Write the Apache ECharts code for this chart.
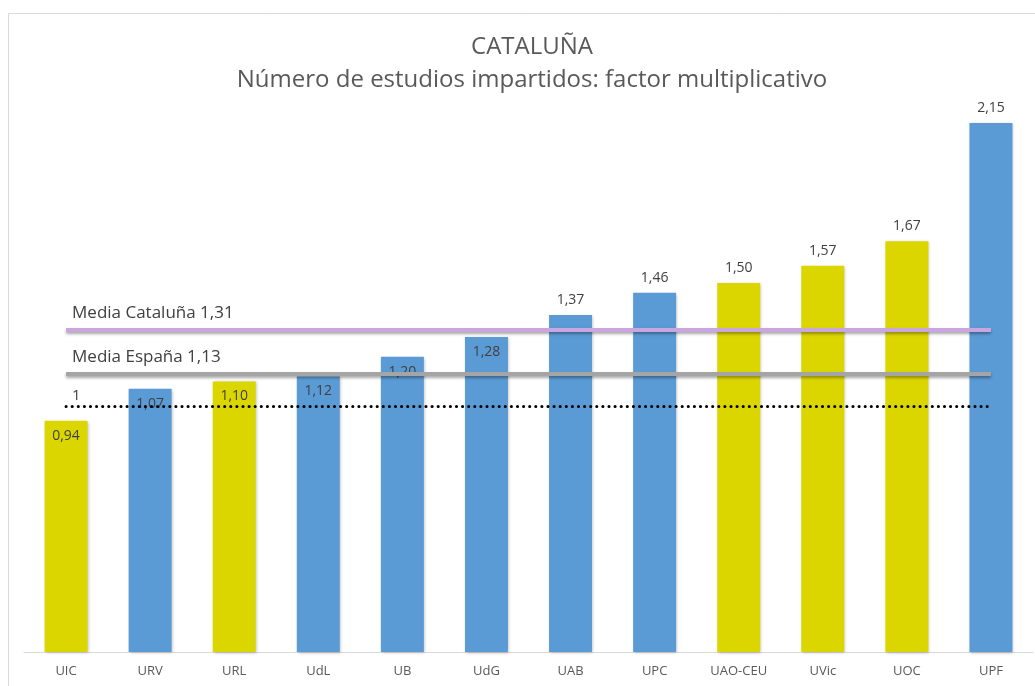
<!DOCTYPE html>
<html><head><meta charset="utf-8">
<script src="https://cdn.jsdelivr.net/npm/echarts@6/dist/echarts.min.js"></script>
<style>html,body{margin:0;padding:0;background:#fff}#c{width:1035px;height:686px}</style>
</head><body><div id="c"></div>
<script>
const categories = ['UIC','URV','URL','UdL','UB','UdG','UAB','UPC','UAO-CEU','UVic','UOC','UPF'];
const values = [0.94,1.07,1.10,1.12,1.20,1.28,1.37,1.46,1.50,1.57,1.67,2.15];
const barKinds = ['y','b','y','b','b','b','b','b','y','y','y','b'];
const labelInside = [true,true,true,true,true,true,false,false,false,false,false,false];
const refNames = ['Media Cataluña 1,31','Media España 1,13','1'];
const refValues = [1.31,1.13,1.0];
const titleText = 'CATALUÑA';
const subtitleText = 'Número de estudios impartidos: factor multiplicativo';

const BLUE = '#5b9bd5', YELLOW = '#dcd600';
const fmt = v => v.toFixed(2).replace('.', ',');
const refStyles = [
  {color:'#c9a6e0', width:4, type:'solid'},
  {color:'#a5a5a5', width:4, type:'solid'},
  {color:'#000000', width:3, type:[0.1,6], cap:'round'}
];

const barData = values.map((v,i)=>({
  value:v,
  itemStyle:{color: barKinds[i]==='y'?YELLOW:BLUE},
  label:{position: labelInside[i]?'insideTop':'top', distance: 8}
}));

const markLines = refValues.map((v,i)=>[
  {coord:[0,v], lineStyle:Object.assign({shadowColor:i<2?'rgba(0,0,0,0.35)':'rgba(0,0,0,0)', shadowBlur:3, shadowOffsetY:2}, refStyles[i]),
   label:{show:true, formatter:refNames[i], position:'insideStartTop', distance:[6, i===2?3:8], color:'#404040', fontSize:i===2?15:17, fontFamily:'Open Sans'}},
  {coord:[categories.length-1,v]}
]);

const chart = echarts.init(document.getElementById('c'));
chart.setOption({
  animation:false,
  textStyle:{fontFamily:'Open Sans'},
  title:{text:titleText, subtext:subtitleText, left:527, textAlign:'center', top:30, itemGap:9,
    textStyle:{fontSize:24, fontWeight:'normal', color:'#595959', fontFamily:'Open Sans'},
    subtextStyle:{fontSize:24, color:'#595959', fontFamily:'Open Sans'}},
  graphic:[{type:'rect', shape:{x:8.5,y:13.5,width:1040,height:700}, style:{fill:'none', stroke:'#d9d9d9', lineWidth:1}, silent:true, z:-10}],
  grid:{left:24, right:2, top:37, bottom:34},
  xAxis:{type:'category', data:categories,
    axisLine:{lineStyle:{color:'#d9d9d9', width:1}}, axisTick:{show:false},
    axisLabel:{color:'#595959', fontSize:13, margin:13}},
  yAxis:{type:'value', min:0, max:2.5, show:false, splitLine:{show:false}},
  series:[{
    type:'bar', data:barData, barWidth:43,
    itemStyle:{shadowColor:'rgba(0,0,0,0.25)', shadowBlur:3, shadowOffsetX:1, shadowOffsetY:1},
    label:{show:true, formatter:p=>fmt(p.value), color:'#404040', fontSize:14},
    markLine:{symbol:'none', silent:true, animation:false, data:markLines}
  }]
});
</script></body></html>
